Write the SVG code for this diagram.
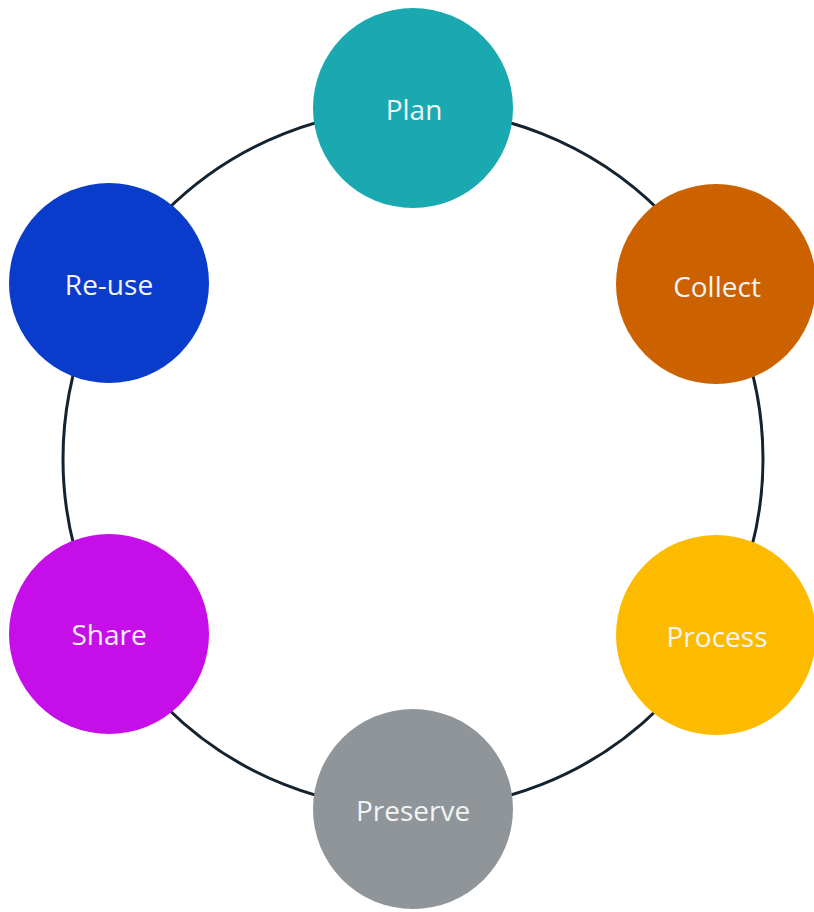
<svg xmlns="http://www.w3.org/2000/svg" width="814" height="912" viewBox="0 0 814 912">
<style>
.lbl{font-family:"Open Sans","Liberation Sans",sans-serif;font-size:28px;fill:#f2f4f5;text-anchor:middle;dominant-baseline:central}
.ring{fill:none;stroke:#15232f;stroke-width:3}
</style>
<rect width="814" height="912" fill="#ffffff"/>
<g id="connectors">
<circle class="ring" cx="413" cy="459" r="350"/>
</g>
<g id="plan"><circle cx="413" cy="108" r="100" fill="#1aa9b0"/><text class="lbl" x="414" y="109">Plan</text></g>
<g id="collect"><circle cx="716" cy="284" r="100" fill="#cc6100"/><text class="lbl" x="717" y="286">Collect</text></g>
<g id="process"><circle cx="716" cy="635" r="100" fill="#fdbb00"/><text class="lbl" x="717" y="636">Process</text></g>
<g id="preserve"><circle cx="413" cy="809" r="100" fill="#8f9599"/><text class="lbl" x="413" y="810">Preserve</text></g>
<g id="share"><circle cx="109" cy="634" r="100" fill="#c60ee8"/><text class="lbl" x="109" y="634">Share</text></g>
<g id="reuse"><circle cx="109" cy="283" r="100" fill="#0a3ccc"/><text class="lbl" x="109" y="284">Re-use</text></g>
</svg>
